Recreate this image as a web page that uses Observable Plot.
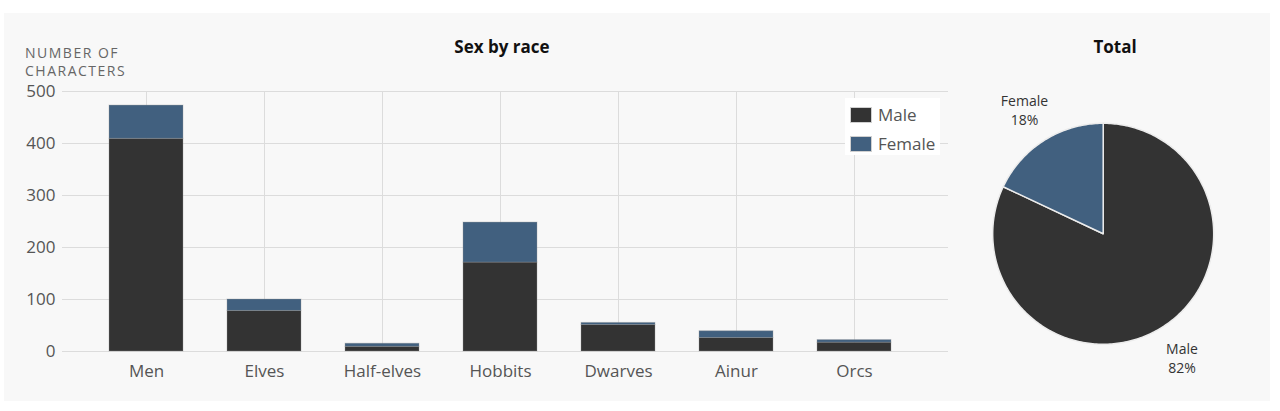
<!DOCTYPE html>
<html>
<head>
<meta charset="utf-8">
<script src="https://cdn.jsdelivr.net/npm/d3@7"></script>
<script src="https://cdn.jsdelivr.net/npm/@observablehq/plot@0.6"></script>
<style>
  html, body { margin: 0; padding: 0; background: #ffffff; }
  body { width: 1280px; height: 411px; position: relative; overflow: hidden; font-family: "Open Sans", sans-serif; }
  #panel { position: absolute; left: 4px; top: 13px; width: 1266px; height: 388px; background: #f8f8f8; }
  .abs { position: absolute; }
  .title { font-weight: 700; font-size: 17px; color: #111; line-height: 17px; white-space: nowrap; transform: translateX(-50%); }
  #ylabel { left: 25px; top: 44px; font-size: 14px; letter-spacing: 1.5px; line-height: 17.5px; color: #666; }
  #legend { left: 845px; top: 98px; width: 95px; height: 57px; background: #ffffff; }
  .lg-item { position: absolute; left: 0; height: 20px; font-size: 17px; color: #555; }
  .lg-sw { position: absolute; left: 5px; width: 20px; height: 14px; border: 1px solid #d0d0d0; box-sizing: content-box; }
  .lg-tx { position: absolute; left: 33px; top: -4px; line-height: 24px; white-space: nowrap; }
</style>
</head>
<body>
<div id="panel"></div>
<div id="bars" class="abs" style="left:0;top:0;"></div>
<div id="pie" class="abs" style="left:960px;top:0;"></div>
<div class="abs title" id="t1" style="left:502px;top:38px;">Sex by race</div>
<div class="abs title" id="t2" style="left:1115px;top:38px;">Total</div>
<div class="abs" id="ylabel">NUMBER OF<br>CHARACTERS</div>
<div class="abs" id="legend"></div>
<script>
// ---- data ----
const races = ["Men", "Elves", "Half-elves", "Hobbits", "Dwarves", "Ainur", "Orcs"];
const sexes = ["Male", "Female"];
const maleCounts = [409, 78, 9, 171, 51, 26, 17];
const femaleCounts = [64, 22, 6, 77, 4, 13, 5];
const yTicks = [0, 100, 200, 300, 400, 500];
const colors = ["#333333", "#41607f"];
const pieLabels = ["Male", "Female"];
const piePercents = [82, 18];

// ---- bar chart ----
const rows = [];
races.forEach((r, i) => {
  rows.push({race: r, sex: "Male", count: maleCounts[i]});
  rows.push({race: r, sex: "Female", count: femaleCounts[i]});
});

const bars = Plot.plot({
  width: 960,
  height: 411,
  marginTop: 91,
  marginBottom: 60,
  marginLeft: 62,
  marginRight: 12,
  style: {fontFamily: "Open Sans", fontSize: "17px", color: "#555", background: "transparent", overflow: "visible"},
  x: {domain: races, paddingInner: 0.374, paddingOuter: 0.187, insetLeft: 24, insetRight: 34, label: null},
  y: {domain: [0, 500], label: null},
  color: {domain: sexes, range: colors},
  marks: [
    Plot.gridY({ticks: yTicks, stroke: "#dcdcdc", strokeOpacity: 1}),
    Plot.gridX({stroke: "#dcdcdc", strokeOpacity: 1}),
    Plot.axisY({ticks: yTicks, tickSize: 0, tickPadding: 7, label: null, fill: "#555"}),
    Plot.axisX({tickSize: 0, tickPadding: 13, label: null, fill: "#555"}),
    Plot.barY(rows, {x: "race", y: "count", fill: "sex", stroke: "#999", strokeOpacity: 0.35, strokeWidth: 1})
  ]
});
document.getElementById("bars").appendChild(bars);

// ---- legend ----
const legend = document.getElementById("legend");
sexes.forEach((s, i) => {
  const item = document.createElement("div");
  item.className = "lg-item";
  item.style.top = (9 + i * 29) + "px";
  const sw = document.createElement("div");
  sw.className = "lg-sw";
  sw.style.background = colors[i];
  const tx = document.createElement("div");
  tx.className = "lg-tx";
  tx.textContent = s;
  item.appendChild(sw);
  item.appendChild(tx);
  legend.appendChild(item);
});

// ---- pie chart ----
const arcs = d3.pie().sort(null).startAngle(0).endAngle(2 * Math.PI)(piePercents);
const slices = arcs.map((a, i) => {
  const pts = [{x: 0, y: 0}];
  const n = Math.max(2, Math.ceil((a.endAngle - a.startAngle) / (Math.PI / 180)));
  for (let k = 0; k <= n; k++) {
    const t = a.startAngle + (a.endAngle - a.startAngle) * k / n;
    pts.push({x: Math.sin(t), y: Math.cos(t)});
  }
  return {label: pieLabels[i], pct: piePercents[i], pts, mid: (a.startAngle + a.endAngle) / 2};
});
const cx = 142.7, cy = 233.3, R = 110.5, labelR = 1.33;
const pie = Plot.plot({
  width: 310,
  height: 411,
  margin: 0,
  style: {fontFamily: "Open Sans", background: "transparent", overflow: "visible"},
  x: {domain: [-1, 1], range: [cx - R, cx + R], axis: null},
  y: {domain: [-1, 1], range: [cy + R, cy - R], axis: null},
  marks: [
    ...slices.map((s, i) => Plot.line(s.pts, {x: "x", y: "y", fill: colors[i], stroke: "#ececec", strokeWidth: 1.5, curve: "linear-closed"})),
    Plot.text(slices, {
      x: d => labelR * Math.sin(d.mid),
      y: d => labelR * Math.cos(d.mid),
      text: d => `${d.label}\n${d.pct}%`,
      fontSize: 14,
      lineHeight: 1.36,
      fill: "#333"
    })
  ]
});
document.getElementById("pie").appendChild(pie);
</script>
</body>
</html>
